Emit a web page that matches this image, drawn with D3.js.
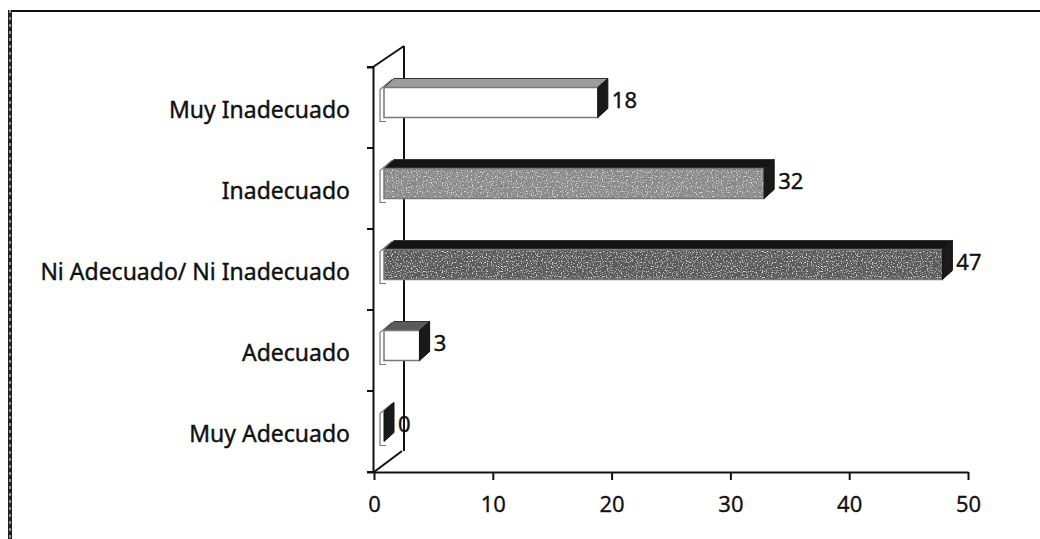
<!DOCTYPE html>
<html>
<head>
<meta charset="utf-8">
<script src="https://cdn.jsdelivr.net/npm/d3@7"></script>
<style>
    body { margin: 0; background: #fff; }
    svg { display: block; }
    text { font-family: "Noto Sans", "Open Sans", sans-serif; fill: #111; }
</style>
</head>
<body>
<script>
// chart data
let categories = ["Muy Inadecuado", "Inadecuado", "Ni Adecuado/ Ni Inadecuado", "Adecuado", "Muy Adecuado"];
let values = [18, 32, 47, 3, 0];
let tickValues = [0, 10, 20, 30, 40, 50];

// face colours per bar (front, top)
let fronts = ["#ffffff", "#8a8a8a", "#5a5a5a", "#ffffff", "#ffffff"];
let tops = ["#9c9c9c", "#141414", "#141414", "#5a5a5a", "#2a2a2a"];
let speckled = [false, true, true, false, false];

let width = 1040, height = 539;

let svg = d3.select("body").append("svg")
    .attr("width", width)
    .attr("height", height);

// scanned-look speckle for the grey bars
let defs = svg.append("defs");
let f = defs.append("filter").attr("id", "speckle").attr("x", 0).attr("y", 0).attr("width", 1).attr("height", 1);
f.append("feTurbulence").attr("type", "fractalNoise").attr("baseFrequency", 0.8)
    .attr("numOctaves", 1).attr("seed", 3).attr("result", "noise");
f.append("feColorMatrix").attr("in", "noise").attr("type", "matrix")
    .attr("values", "0 0 0 0 1  0 0 0 0 1  0 0 0 0 1  3 0 0 0 -1.6")
    .attr("result", "dots");
f.append("feComposite").attr("in", "dots").attr("in2", "SourceGraphic").attr("operator", "in").attr("result", "clipped");
f.append("feMerge").call(function (m) {
    m.append("feMergeNode").attr("in", "SourceGraphic");
    m.append("feMergeNode").attr("in", "clipped");
});

// outer frame (only top and left visible)
svg.append("line").attr("x1", 9).attr("y1", 11).attr("x2", 1040).attr("y2", 11)
    .attr("stroke", "#111").attr("stroke-width", 2);
svg.append("line").attr("x1", 10).attr("y1", 10).attr("x2", 10).attr("y2", 539)
    .attr("stroke", "#222").attr("stroke-width", 4);
svg.append("line").attr("x1", 10).attr("y1", 10).attr("x2", 10).attr("y2", 539)
    .attr("stroke", "#fff").attr("stroke-width", 1).attr("stroke-dasharray", "3,4");

let x = d3.scaleLinear().domain([0, 50]).range([374, 968]);
let y = d3.scaleBand().domain(categories).range([67, 472]);

// 3d depth of the side wall, and of the bars inside it
let wallDx = 30, wallDy = -21;
let barOff = {dx: 10, dy: -7};
let barDepth = {dx: 10, dy: -9};
let barH = 30;

// back edge of the wall (partly hidden by bars)
svg.append("line")
    .attr("x1", x(0) + wallDx).attr("y1", y.range()[0] + wallDy)
    .attr("x2", x(0) + wallDx).attr("y2", y.range()[1] + wallDy)
    .attr("stroke", "#111").attr("stroke-width", 2);

// wall top and bottom diagonals
svg.append("line")
    .attr("x1", x(0) - 1).attr("y1", y.range()[0])
    .attr("x2", x(0) + wallDx).attr("y2", y.range()[0] + wallDy)
    .attr("stroke", "#111").attr("stroke-width", 2);
svg.append("line")
    .attr("x1", x(0)).attr("y1", y.range()[1])
    .attr("x2", x(0) + wallDx - 2).attr("y2", y.range()[1] + wallDy)
    .attr("stroke", "#111").attr("stroke-width", 2);

// bars
let bars = svg.selectAll(".bar")
    .data(categories.map(function (c, i) {
        return {cat: c, value: values[i], i: i};
    }))
    .enter().append("g")
    .attr("class", "bar");

function geo(d) {
    let yc = y(d.cat) + y.bandwidth() / 2;
    let x0 = x(0) + barOff.dx, x1 = x(d.value) + barOff.dx;
    let y0 = yc + barOff.dy + 2 - barH / 2, y1 = y0 + barH;
    return {x0: x0, x1: x1, y0: y0, y1: y1, yc: yc};
}

// faint end outline on the wall
bars.append("path")
    .attr("d", function (d) {
        let g = geo(d);
        return "M" + (g.x0 + 8) + "," + (g.y0 - 8) + "L" + (g.x0 - 4) + "," + (g.y0 + 2) +
            "L" + (g.x0 - 4) + "," + (g.y1 + 4) + "L" + (g.x0 + 2) + "," + (g.y1 + 4);
    })
    .attr("fill", "none")
    .attr("stroke", "#777")
    .attr("stroke-width", 1.2);

bars.append("path")
    .attr("d", function (d) {
        let g = geo(d);
        return "M" + g.x0 + "," + g.y0 + "L" + g.x1 + "," + g.y0 +
            "L" + (g.x1 + barDepth.dx) + "," + (g.y0 + barDepth.dy) +
            "L" + (g.x0 + barDepth.dx) + "," + (g.y0 + barDepth.dy) + "Z";
    })
    .attr("fill", function (d) { return tops[d.i]; })
    .attr("stroke", "#333").attr("stroke-width", 1);

bars.append("rect")
    .attr("x", function (d) { return geo(d).x0; })
    .attr("y", function (d) { return geo(d).y0; })
    .attr("width", function (d) { let g = geo(d); return g.x1 - g.x0; })
    .attr("height", barH)
    .attr("fill", function (d) { return fronts[d.i]; })
    .attr("filter", function (d) { return speckled[d.i] ? "url(#speckle)" : null; });

bars.append("rect")
    .attr("x", function (d) { return geo(d).x0; })
    .attr("y", function (d) { return geo(d).y0; })
    .attr("width", function (d) { let g = geo(d); return g.x1 - g.x0; })
    .attr("height", barH)
    .attr("fill", "none")
    .attr("stroke", "#777").attr("stroke-width", 1.5);

bars.append("path")
    .attr("d", function (d) {
        let g = geo(d);
        return "M" + g.x1 + "," + g.y0 +
            "L" + (g.x1 + barDepth.dx) + "," + (g.y0 + barDepth.dy) +
            "L" + (g.x1 + barDepth.dx) + "," + (g.y1 + barDepth.dy) +
            "L" + g.x1 + "," + g.y1 + "Z";
    })
    .attr("fill", "#1a1a1a")
    .attr("stroke", "#111").attr("stroke-width", 1);

bars.append("text")
    .attr("x", function (d) { return geo(d).x1 + barDepth.dx + 4; })
    .attr("y", function (d) { let g = geo(d); return (g.y0 + g.y1) / 2 - 2; })
    .attr("dy", "0.35em")
    .style("font-size", "22px")
    .style("stroke", "#111").style("stroke-width", 0.4)
    .text(function (d) { return d.value; });

// front edge of the wall with category ticks
let yAxis = d3.axisLeft(y).tickSize(6).tickFormat("");
svg.append("g")
    .attr("transform", "translate(" + (x(0) - 1) + ",0)")
    .call(yAxis)
    .call(function (g) {
        g.selectAll("line").attr("stroke", "#111").attr("stroke-width", 2)
            .attr("transform", function () { return "translate(0," + (-y.bandwidth() / 2) + ")"; });
        g.select(".domain").attr("stroke", "#111").attr("stroke-width", 2);
    });
svg.append("line")
    .attr("x1", x(0) - 7).attr("x2", x(0)).attr("y1", y.range()[1]).attr("y2", y.range()[1])
    .attr("stroke", "#111").attr("stroke-width", 2);

// category labels
svg.selectAll(".cat")
    .data(categories)
    .enter().append("text")
    .attr("class", "cat")
    .attr("x", 350)
    .attr("y", function (d) { return y(d) + y.bandwidth() / 2 + 2; })
    .attr("dy", "0.35em")
    .style("text-anchor", "end")
    .style("font-size", "23px")
    .style("stroke", "#111").style("stroke-width", 0.4)
    .text(function (d) { return d; });

// value axis
let xAxis = d3.axisBottom(x).tickValues(tickValues).tickSize(8).tickSizeOuter(0).tickPadding(16);
svg.append("g")
    .attr("transform", "translate(0," + y.range()[1] + ")")
    .call(xAxis)
    .call(function (g) {
        g.select(".domain").attr("stroke", "#111").attr("stroke-width", 2);
        g.selectAll("line").attr("stroke", "#111").attr("stroke-width", 2);
        g.selectAll("text").style("font-size", "22px").attr("fill", "#111")
            .style("stroke", "#111").style("stroke-width", 0.3)
            .style("font-family", "\"Noto Sans\", sans-serif");
    });
</script>
</body>
</html>
